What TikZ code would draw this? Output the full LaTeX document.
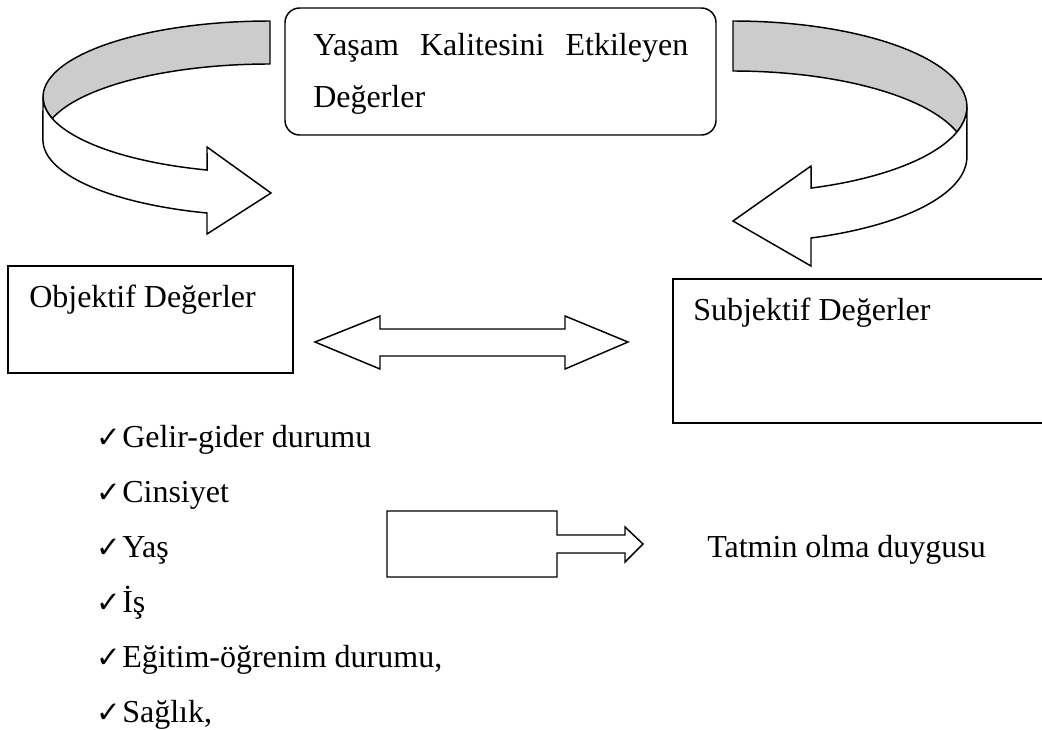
\documentclass[tikz,border=0pt]{standalone}
\usepackage{fontspec}
\setmainfont{Liberation Serif}
\newfontfamily\symfont{DejaVu Sans}
\usetikzlibrary{fit}
\definecolor{bandgray}{gray}{0.8}
\begin{document}
\begin{tikzpicture}[x=0.75pt,y=-0.75pt,line join=miter,
  outline/.style={draw=black,line width=1.1pt,fill=white},
  backband/.style={draw=black,line width=1.1pt,fill=bandgray},
  box/.style={draw=black,line width=1.1pt,inner sep=0pt},
  lbl/.style={anchor=base west,inner sep=0pt,font=\fontsize{24}{28}\selectfont},
  chk/.style={anchor=base west,inner sep=0pt,font=\symfont\fontsize{22}{26}\selectfont}]
\clip (0,0) rectangle (1042,729);
\fill[white] (0,0) rectangle (1042,729);

% left curved arrow
\draw[backband] (270,21) arc[start angle=270,end angle=163.57,x radius=227,y radius=76]
  arc[start angle=196.43,end angle=270,x radius=227,y radius=76] -- cycle;
\draw[outline] (43,97) arc[start angle=180,end angle=106.1,x radius=227,y radius=76]
  -- (207,147) -- (271,193) -- (207,234) -- (207,213)
  arc[start angle=106.1,end angle=180,x radius=227,y radius=76] -- cycle;

% right curved arrow
\draw[backband] (733,21) arc[start angle=270,end angle=376.9,x radius=234,y radius=86]
  arc[start angle=343.1,end angle=270,x radius=234,y radius=86] -- cycle;
\draw[outline] (967,107) arc[start angle=0,end angle=70.5,x radius=234,y radius=86]
  -- (811,166) -- (733,221) -- (811,266) -- (811,238)
  arc[start angle=70.5,end angle=0,x radius=234,y radius=86] -- cycle;

% title box
\node[box,rounded corners=11pt,fit={(285,8) (716,135)}] (title) {};
\node[lbl] (t1) at (313,55) {\makebox[281.25pt][s]{Yaşam Kalitesini Etkileyen}};
\node[lbl] (t2) at (313,107) {Değerler};

% objective / subjective boxes
\node[box,fit={(8,266) (293,373)}] (obj) {};
\node[lbl] (objt) at (29,307) {Objektif Değerler};
\node[box,fit={(673,279) (1048,423)}] (subj) {};
\node[lbl] (subjt) at (693,320) {Subjektif Değerler};

% double arrow
\coordinate (dl) at (315,342);
\coordinate (dr) at (628,342);
\draw[outline] (dl) -- (380,316) -- (380,329) -- (565,329) -- (565,316) -- (dr)
  -- (565,369) -- (565,356) -- (380,356) -- (380,369) -- cycle;

% small box with arrow
\coordinate (sa) at (643,544);
\draw[outline] (387,511) -- (557,511) -- (557,535) -- (625,535) -- (625,527) -- (sa)
  -- (625,562) -- (625,553) -- (557,553) -- (557,577) -- (387,577) -- cycle;
\node[lbl] (tat) at (707,557) {Tatmin olma duygusu};

% list
\foreach \y/\t [count=\i] in {447/Gelir-gider durumu,502/Cinsiyet,557/Yaş,612/İş,667/{Eğitim-öğrenim durumu,},722/{Sağlık,}}{
  \node[chk] (c\i) at (96,\y) {✓};
  \node[lbl] (l\i) at (122,\y) {\t};
}
\end{tikzpicture}
\end{document}
